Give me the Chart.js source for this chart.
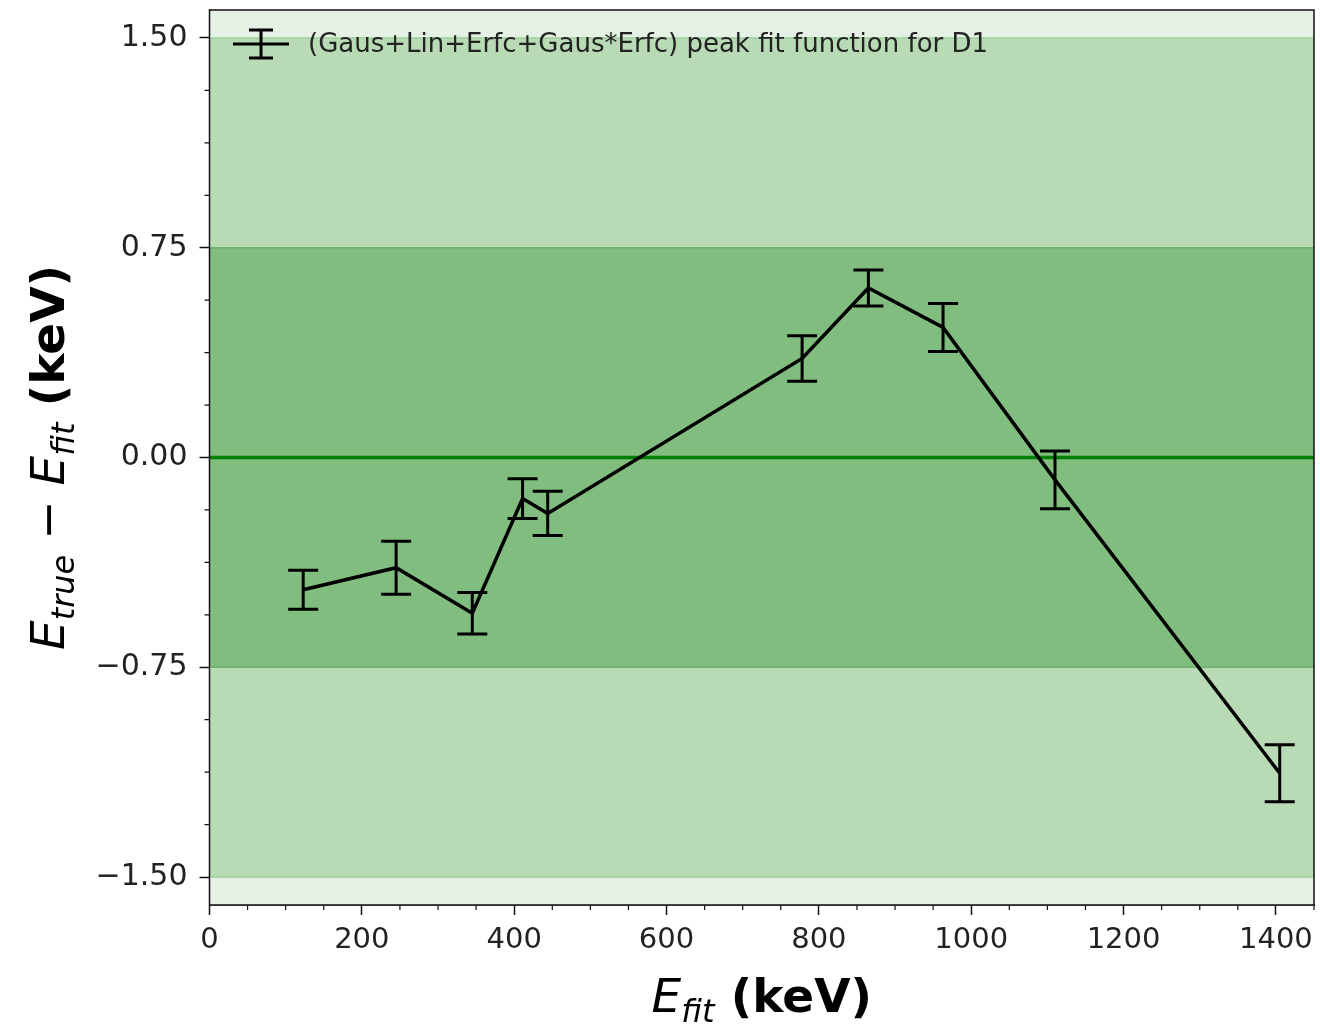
<!DOCTYPE html>
<html>
<head>
<meta charset="utf-8">
<script src="https://cdn.jsdelivr.net/npm/chart.js@4"></script>
<style>
  body { margin: 0; background: #fff; }
  #wrap { width: 1320px; height: 1026px; }
</style>
</head>
<body>
<div id="wrap"><canvas id="chart" width="1320" height="1026"></canvas></div>
<script>
// peak energies and residuals
const energies = [123, 245, 345, 411, 444, 778, 865, 963, 1110, 1405]
const residuals = [-0.473, -0.394, -0.557, -0.147, -0.200, 0.354, 0.606, 0.465, -0.080, -1.129]
const residualErrors = [0.070, 0.095, 0.074, 0.071, 0.079, 0.081, 0.064, 0.086, 0.103, 0.102]

const xTicks = [0, 200, 400, 600, 800, 1000, 1200, 1400]
const yTicks = [-1.5, -0.75, 0, 0.75, 1.5]
const bandEdges = [1.5, 0.75]
const legendLabel = '(Gaus+Lin+Erfc+Gaus*Erfc) peak fit function for D1'

Chart.defaults.font.family = 'DejaVu Sans'

const fmtY = v => (v < 0 ? '\u2212' : '') + Math.abs(v).toFixed(2)

// shaded tolerance bands + zero line, drawn under the data
const bandsPlugin = {
  id: 'bands',
  beforeDatasetsDraw(chart) {
    const { ctx, chartArea: a, scales: { y } } = chart
    ctx.save()
    ctx.fillStyle = '#e5f1e4'
    ctx.fillRect(a.left, a.top, a.right - a.left, a.bottom - a.top)
    const fills = ['#b8dbb5', '#81bd7e']
    bandEdges.forEach((lim, i) => {
      const t = y.getPixelForValue(lim)
      const b = y.getPixelForValue(-lim)
      ctx.fillStyle = fills[i]
      ctx.fillRect(a.left, t, a.right - a.left, b - t)
      ctx.strokeStyle = i === 0 ? '#9fcf9c' : '#6fb26d'
      ctx.lineWidth = 1.5
      ctx.beginPath()
      ctx.moveTo(a.left, t); ctx.lineTo(a.right, t)
      ctx.moveTo(a.left, b); ctx.lineTo(a.right, b)
      ctx.stroke()
    })
    const z = y.getPixelForValue(0)
    ctx.strokeStyle = '#008000'
    ctx.lineWidth = 3.5
    ctx.beginPath()
    ctx.moveTo(a.left, z); ctx.lineTo(a.right, z)
    ctx.stroke()
    ctx.restore()
  }
}

const errorBarPlugin = {
  id: 'errorBars',
  afterDatasetsDraw(chart) {
    const { ctx, scales: { x, y } } = chart
    ctx.save()
    ctx.strokeStyle = '#000'
    ctx.lineWidth = 3
    energies.forEach((e, i) => {
      const px = x.getPixelForValue(e)
      const top = y.getPixelForValue(residuals[i] + residualErrors[i])
      const bot = y.getPixelForValue(residuals[i] - residualErrors[i])
      ctx.beginPath()
      ctx.moveTo(px, top); ctx.lineTo(px, bot)
      ctx.moveTo(px - 15, top); ctx.lineTo(px + 15, top)
      ctx.moveTo(px - 15, bot); ctx.lineTo(px + 15, bot)
      ctx.stroke()
    })
    ctx.restore()
  }
}

// frame, minor ticks, legend and axis titles with subscripts
const decorPlugin = {
  id: 'decor',
  afterDraw(chart) {
    const { ctx, chartArea: a, scales: { x, y } } = chart
    ctx.save()
    ctx.strokeStyle = '#111'
    ctx.lineWidth = 1.5
    ctx.strokeRect(a.left, a.top, a.right - a.left, a.bottom - a.top)

    ctx.lineWidth = 1.2
    ctx.beginPath()
    for (let v = 50; v <= 1450; v += 50) {
      if (v % 200 === 0) continue
      const px = x.getPixelForValue(v)
      ctx.moveTo(px, a.bottom); ctx.lineTo(px, a.bottom + 5)
    }
    for (let v = -1.5; v <= 1.5; v += 0.1875) {
      if (Math.abs((v / 0.75) - Math.round(v / 0.75)) < 1e-6) continue
      const py = y.getPixelForValue(v)
      ctx.moveTo(a.left, py); ctx.lineTo(a.left - 5, py)
    }
    ctx.stroke()

    // legend
    const lx = 261, ly = 44
    ctx.strokeStyle = '#000'
    ctx.lineWidth = 3
    ctx.beginPath()
    ctx.moveTo(lx - 28, ly); ctx.lineTo(lx + 28, ly)
    ctx.moveTo(lx, ly - 14); ctx.lineTo(lx, ly + 14)
    ctx.moveTo(lx - 12, ly - 14); ctx.lineTo(lx + 12, ly - 14)
    ctx.moveTo(lx - 12, ly + 14); ctx.lineTo(lx + 12, ly + 14)
    ctx.stroke()
    ctx.fillStyle = '#222'
    ctx.font = '26px "DejaVu Sans"'
    ctx.textBaseline = 'middle'
    ctx.fillText(legendLabel, 308, ly + 1)

    // axis titles
    const drawTitle = (parts) => {
      let w = 0
      parts.forEach(p => { ctx.font = p.font; w += ctx.measureText(p.t).width })
      let cx = -w / 2
      parts.forEach(p => {
        ctx.font = p.font
        ctx.fillText(p.t, cx, p.dy || 0)
        cx += ctx.measureText(p.t).width
      })
    }
    const it = 'italic 47px "DejaVu Sans"'
    const sub = 'italic 32px "DejaVu Sans"'
    const bold = 'bold 47px "DejaVu Sans"'
    const reg = '47px "DejaVu Sans"'
    ctx.fillStyle = '#000'
    ctx.textBaseline = 'alphabetic'
    ctx.textAlign = 'left'

    ctx.save()
    ctx.translate((a.left + a.right) / 2, 1012)
    drawTitle([{ t: 'E', font: it }, { t: 'fit', font: sub, dy: 10 }, { t: ' (keV)', font: bold }])
    ctx.restore()

    ctx.save()
    ctx.translate(64, (a.top + a.bottom) / 2)
    ctx.rotate(-Math.PI / 2)
    drawTitle([
      { t: 'E', font: it }, { t: 'true', font: sub, dy: 10 },
      { t: ' \u2212 ', font: reg },
      { t: 'E', font: it }, { t: 'fit', font: sub, dy: 10 },
      { t: ' (keV)', font: bold }
    ])
    ctx.restore()
    ctx.restore()
  }
}

new Chart(document.getElementById('chart'), {
  type: 'line',
  data: {
    datasets: [{
      data: energies.map((e, i) => ({ x: e, y: residuals[i] })),
      borderColor: '#000',
      borderWidth: 3.5,
      pointRadius: 0,
      tension: 0
    }]
  },
  options: {
    responsive: false,
    animation: false,
    devicePixelRatio: 1,
    layout: { padding: { top: 10, right: 6, left: 0, bottom: 0 } },
    plugins: { legend: { display: false }, tooltip: { enabled: false } },
    scales: {
      x: {
        type: 'linear',
        min: 0,
        max: 1450,
        afterBuildTicks: s => { s.ticks = xTicks.map(v => ({ value: v })) },
        afterFit: s => { s.height = 121; s.paddingLeft = 0; s.paddingRight = 0 },
        grid: { drawOnChartArea: false, tickLength: 10, tickColor: '#111', tickWidth: 1.5 },
        border: { display: true, color: '#111', width: 1.5 },
        ticks: { color: '#222', font: { size: 29 }, padding: 8, maxRotation: 0, callback: v => String(v) }
      },
      y: {
        min: -1.6,
        max: 1.6,
        afterBuildTicks: s => { s.ticks = yTicks.map(v => ({ value: v })) },
        afterFit: s => { s.width = 209.5; s.paddingTop = 0; s.paddingBottom = 0 },
        grid: { drawOnChartArea: false, tickLength: 10, tickColor: '#111', tickWidth: 1.5 },
        border: { display: true, color: '#111', width: 1.5 },
        ticks: { color: '#222', font: { size: 30 }, padding: 12, callback: v => fmtY(v) }
      }
    }
  },
  plugins: [bandsPlugin, errorBarPlugin, decorPlugin]
})
</script>
</body>
</html>
